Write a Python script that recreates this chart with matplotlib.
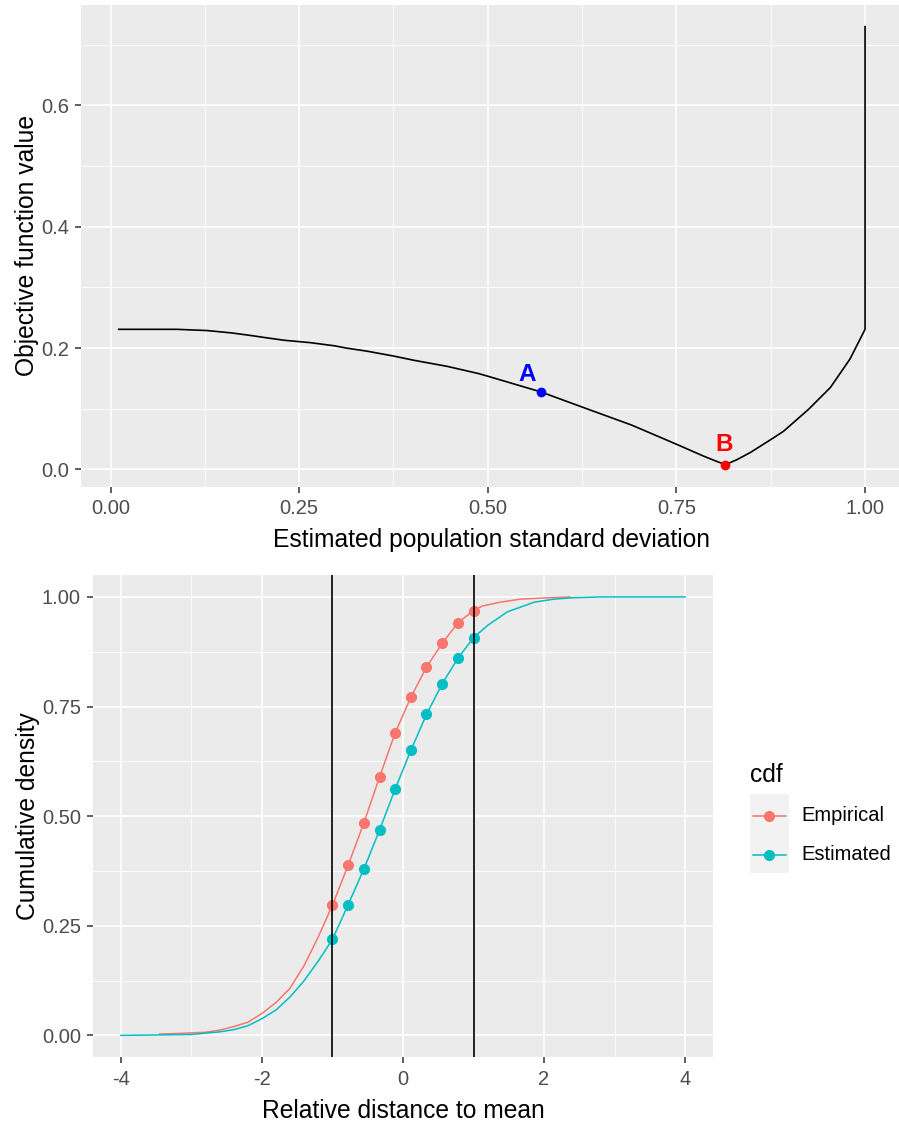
import matplotlib
matplotlib.use("Agg")
import matplotlib.pyplot as plt
from matplotlib.lines import Line2D
from matplotlib.patches import Rectangle
from matplotlib.ticker import MultipleLocator

plt.rcParams["font.family"] = ["Liberation Sans", "DejaVu Sans"]

# top panel: objective function value against estimated sd
sd_est = [0.011, 0.088, 0.128, 0.161, 0.185, 0.207, 0.230, 0.265, 0.296, 0.313,
          0.340, 0.375, 0.402, 0.446, 0.488, 0.502, 0.570, 0.627, 0.691, 0.753,
          0.786, 0.804, 0.815, 0.830, 0.848, 0.876, 0.892, 0.925, 0.954, 0.980,
          1.0, 1.0]
obj_val = [0.231, 0.231, 0.229, 0.225, 0.221, 0.217, 0.213, 0.209, 0.204, 0.200,
           0.195, 0.187, 0.180, 0.170, 0.158, 0.153, 0.128, 0.102, 0.073, 0.040,
           0.022, 0.013, 0.008, 0.016, 0.028, 0.050, 0.063, 0.099, 0.135, 0.182,
           0.231, 0.730]
point_names = ["A", "B"]
point_x = [0.570, 0.815]
point_y = [0.128, 0.008]
point_colors = ["blue", "red"]
label_x = [0.5527, 0.8135]
label_y = [0.1458, 0.0302]

# bottom panel: cumulative densities
emp_x = [-3.45, -3.25, -2.8, -2.6, -2.4, -2.2, -2.0, -1.8, -1.6, -1.4, -1.2,
         -1.0, -0.778, -0.556, -0.333, -0.111, 0.111, 0.333, 0.556, 0.778, 1.0,
         1.12, 1.38, 1.67, 2.05, 2.37]
emp_y = [0.003, 0.004, 0.007, 0.012, 0.020, 0.030, 0.050, 0.075, 0.108, 0.160, 0.225,
         0.297, 0.388, 0.484, 0.589, 0.690, 0.771, 0.840, 0.894, 0.941, 0.969,
         0.979, 0.988, 0.995, 0.998, 1.0]
est_x = [-4.0, -3.0, -2.6, -2.4, -2.2, -2.0, -1.8, -1.6, -1.4, -1.2,
         -1.0, -0.778, -0.556, -0.333, -0.111, 0.111, 0.333, 0.556, 0.778, 1.0,
         1.2, 1.48, 1.86, 2.14, 2.4, 2.8, 4.0]
est_y = [0.0, 0.002, 0.008, 0.013, 0.022, 0.038, 0.058, 0.088, 0.125, 0.170,
         0.219, 0.298, 0.379, 0.468, 0.562, 0.650, 0.732, 0.802, 0.860, 0.907,
         0.935, 0.966, 0.988, 0.995, 0.998, 1.0, 1.0]
pts_x = [-1.0, -0.778, -0.556, -0.333, -0.111, 0.111, 0.333, 0.556, 0.778, 1.0]
emp_pts = [0.297, 0.388, 0.484, 0.589, 0.690, 0.771, 0.840, 0.894, 0.941, 0.969]
est_pts = [0.219, 0.298, 0.379, 0.468, 0.562, 0.650, 0.732, 0.802, 0.860, 0.907]
vlines = [-1, 1]

RED = "#F8766D"
CYAN = "#00BFC4"
W, H = 899, 1125


def fx(px):
    return px / W


def fy(py):
    return 1 - py / H


def gg_style(ax, xmaj, xmin, ymaj, ymin):
    ax.set_facecolor("#EBEBEB")
    for s in ax.spines.values():
        s.set_visible(False)
    ax.xaxis.set_major_locator(MultipleLocator(xmaj))
    ax.xaxis.set_minor_locator(MultipleLocator(xmin))
    ax.yaxis.set_major_locator(MultipleLocator(ymaj))
    ax.yaxis.set_minor_locator(MultipleLocator(ymin))
    ax.grid(which="major", color="white", lw=1.2)
    ax.grid(which="minor", color="white", lw=0.6)
    ax.set_axisbelow(True)
    ax.tick_params(which="minor", length=0)
    ax.tick_params(which="major", length=4.5, width=1.1, color="#333333",
                   labelcolor="#4D4D4D", labelsize=14.5)
    ax.tick_params(axis="y", pad=4)
    ax.tick_params(axis="x", pad=4.5)


fig = plt.figure(figsize=(W / 100, H / 100), dpi=100)

# top panel
ax1 = fig.add_axes([fx(80.7), fy(486.7), fx(902.4) - fx(80.7), fy(5) - fy(486.7)])
gg_style(ax1, 0.25, 0.125, 0.2, 0.1)
ax1.plot(sd_est, obj_val, color="black", lw=1.2)
for name, x, y, c, lx, ly in zip(point_names, point_x, point_y, point_colors,
                                 label_x, label_y):
    ax1.plot(x, y, "o", color=c, ms=6, zorder=3)
    ax1.text(lx, ly, name, color=c, fontsize=17.5, fontweight="bold",
             ha="center", va="baseline")
ax1.set_xlim(-0.0395, 1.0495)
ax1.set_ylim(-0.0284, 0.7656)
ax1.xaxis.set_major_formatter(plt.FuncFormatter(lambda v, p: f"{v:.2f}"))
ax1.yaxis.set_major_formatter(plt.FuncFormatter(lambda v, p: f"{v:.1f}"))
ax1.set_xlabel("Estimated population standard deviation", fontsize=17.7, labelpad=7)
ax1.set_ylabel("Objective function value", fontsize=17.7, labelpad=1.5)

# bottom panel
ax2 = fig.add_axes([fx(92.7), fy(1057.3), fx(713.3) - fx(92.7), fy(575) - fy(1057.3)])
gg_style(ax2, 2, 1, 0.25, 0.125)
for v in vlines:
    ax2.axvline(v, color="black", lw=1.2, zorder=4)
ax2.plot(emp_x, emp_y, color=RED, lw=1.1, zorder=2)
ax2.plot(est_x, est_y, color=CYAN, lw=1.1, zorder=2)
ax2.plot(pts_x, emp_pts, "o", color=RED, ms=7, zorder=3)
ax2.plot(pts_x, est_pts, "o", color=CYAN, ms=7, zorder=3)
ax2.set_xlim(-4.4, 4.4)
ax2.set_ylim(-0.05, 1.05)
ax2.yaxis.set_major_formatter(plt.FuncFormatter(lambda v, p: f"{v:.2f}"))
ax2.xaxis.set_major_formatter(plt.FuncFormatter(lambda v, p: f"{v:g}"))
ax2.set_xlabel("Relative distance to mean", fontsize=17.7, labelpad=7)
ax2.set_ylabel("Cumulative density", fontsize=17.7, labelpad=1.5)

# legend drawn by hand, ggplot style
fig.text(fx(750), fy(781.7), "cdf", fontsize=17.7, ha="left", va="baseline")
fig.add_artist(Rectangle((fx(750), fy(872.7)), fx(39), 78.4 / H,
                         transform=fig.transFigure, facecolor="#F2F2F2",
                         edgecolor="none"))
for label, col, ky in [("Empirical", RED, 815.7), ("Estimated", CYAN, 855.0)]:
    fig.add_artist(Line2D([fx(753), fx(786)], [fy(ky), fy(ky)],
                          transform=fig.transFigure, color=col, lw=1.1))
    fig.add_artist(Line2D([fx(769.3)], [fy(ky)], transform=fig.transFigure,
                          color=col, marker="o", ms=7))
    fig.text(fx(801.7), fy(ky), label, fontsize=14.5, ha="left", va="center")

fig.savefig("out.png", dpi=100)
